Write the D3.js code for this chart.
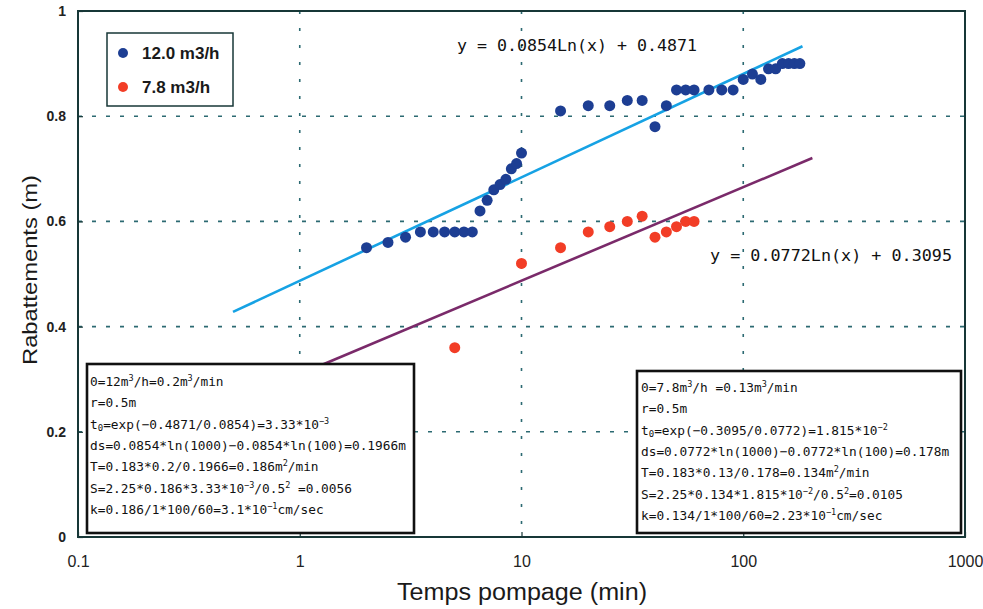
<!DOCTYPE html>
<html>
<head>
<meta charset="utf-8">
<script src="https://cdn.jsdelivr.net/npm/d3@7"></script>
<style>
  body { margin: 0; background: #fff; }
  svg { display: block; }
</style>
</head>
<body>
<script>
// Data
var blueTime = [2, 2.5, 3, 3.5, 4, 4.5, 5, 5.5, 6, 6.5, 7, 7.5, 8, 8.5, 9, 9.5, 10,
                15, 20, 25, 30, 35, 40, 45, 50, 55, 60, 70, 80, 90, 100, 110, 120, 130, 140, 150, 160, 170, 180];
var blueDraw = [0.55, 0.56, 0.57, 0.58, 0.58, 0.58, 0.58, 0.58, 0.58, 0.62, 0.64, 0.66, 0.67, 0.68, 0.70, 0.71, 0.73,
                0.81, 0.82, 0.82, 0.83, 0.83, 0.78, 0.82, 0.85, 0.85, 0.85, 0.85, 0.85, 0.85, 0.87, 0.88, 0.87, 0.89, 0.89, 0.90, 0.90, 0.90, 0.90];
var redTime = [5, 10, 15, 20, 25, 30, 35, 40, 45, 50, 55, 60];
var redDraw = [0.36, 0.52, 0.55, 0.58, 0.59, 0.60, 0.61, 0.57, 0.58, 0.59, 0.60, 0.60];

// fitted lines y = a*ln(x) + b, drawn between two times
var blueFit = [0.0854, 0.4871];
var redFit = [0.0772, 0.3095];
var blueFitRange = [0.5, 185];
var redFitRange = [0.5, 205];

var xTicks = [0.1, 1, 10, 100, 1000];
var yTicks = [0, 0.2, 0.4, 0.6, 0.8, 1];
var legendLabels = ["12.0 m3/h", "7.8 m3/h"];

// text boxes: [text, kind] with kind n / sup / sub
var leftBox = [
  [["0=12m","n"],["3","sup"],["/h=0.2m","n"],["3","sup"],["/min","n"]],
  [["r=0.5m","n"]],
  [["t","n"],["0","sub"],["=exp(\u22120.4871/0.0854)=3.33*10","n"],["\u22123","sup"]],
  [["ds=0.0854*ln(1000)\u22120.0854*ln(100)=0.1966m","n"]],
  [["T=0.183*0.2/0.1966=0.186m","n"],["2","sup"],["/min","n"]],
  [["S=2.25*0.186*3.33*10","n"],["\u22123","sup"],["/0.5","n"],["2","sup"],[" =0.0056","n"]],
  [["k=0.186/1*100/60=3.1*10","n"],["\u22121","sup"],["cm/sec","n"]]
];
var rightBox = [
  [["0=7.8m","n"],["3","sup"],["/h =0.13m","n"],["3","sup"],["/min","n"]],
  [["r=0.5m","n"]],
  [["t","n"],["0","sub"],["=exp(\u22120.3095/0.0772)=1.815*10","n"],["\u22122","sup"]],
  [["ds=0.0772*ln(1000)\u22120.0772*ln(100)=0.178m","n"]],
  [["T=0.183*0.13/0.178=0.134m","n"],["2","sup"],["/min","n"]],
  [["S=2.25*0.134*1.815*10","n"],["\u22122","sup"],["/0.5","n"],["2","sup"],["=0.0105","n"]],
  [["k=0.134/1*100/60=2.23*10","n"],["\u22121","sup"],["cm/sec","n"]]
];

var W = 983, H = 609;
var plotL = 78, plotR = 965, plotT = 11, plotB = 537;

var blueCol = "#1d3e93", redCol = "#f23d26";
var blueLine = "#16a2e4", redLine = "#7a2a6a";
var frameCol = "#173737", gridCol = "#2c6a72";

var svg = d3.select("body").append("svg")
    .attr("width", W)
    .attr("height", H);

var x = d3.scaleLog().domain([0.1, 1000]).range([plotL, plotR]);
var y = d3.scaleLinear().domain([0, 1]).range([plotB, plotT]);

// Gridlines (dotted)
svg.append("g")
    .selectAll("line")
    .data(xTicks.slice(1, -1))
    .enter()
    .append("line")
        .attr("x1", d => x(d)).attr("x2", d => x(d))
        .attr("y1", plotT).attr("y2", plotB)
        .attr("stroke", gridCol)
        .attr("stroke-width", 1.6)
        .attr("stroke-dasharray", "3,14");

svg.append("g")
    .selectAll("line")
    .data(yTicks.slice(1, -1))
    .enter()
    .append("line")
        .attr("x1", plotL).attr("x2", plotR)
        .attr("y1", d => y(d)).attr("y2", d => y(d))
        .attr("stroke", gridCol)
        .attr("stroke-width", 1.6)
        .attr("stroke-dasharray", "4,10");

// Axes with small inner ticks
var xAxis = svg.append("g")
    .attr("transform", "translate(0," + plotB + ")")
    .call(d3.axisBottom(x).tickValues(xTicks).tickFormat(d => String(d)).tickSize(-5).tickPadding(19));
var yAxis = svg.append("g")
    .attr("transform", "translate(" + plotL + ",0)")
    .call(d3.axisLeft(y).tickValues(yTicks).tickFormat(d => String(d)).tickSize(-5).tickPadding(12));

[xAxis, yAxis].forEach(function(a) {
    a.select(".domain").remove();
    a.selectAll(".tick line").attr("stroke", frameCol).attr("stroke-width", 1.2);
    a.selectAll("text")
        .attr("fill", "#222")
        .style("font-family", "'Liberation Sans', Arial, sans-serif");
});
xAxis.selectAll("text").style("font-size", "16px");
yAxis.selectAll("text").style("font-size", "14px").style("font-weight", "bold");

// Regression lines
function fitLine(coef, range, col) {
    var pts = range.map(t => [x(t), y(coef[0] * Math.log(t) + coef[1])]);
    svg.append("path")
        .attr("d", d3.line()(pts))
        .attr("fill", "none")
        .attr("stroke", col)
        .attr("stroke-width", 2.6);
}
fitLine(blueFit, blueFitRange, blueLine);
fitLine(redFit, redFitRange, redLine);

// Calculation boxes
function drawBox(lines, bx, by, bw, bh, tx, ty0) {
    svg.append("rect")
        .attr("x", bx).attr("y", by)
        .attr("width", bw).attr("height", bh)
        .attr("fill", "#fff")
        .attr("stroke", "#111")
        .attr("stroke-width", 2.6);
    var g = svg.append("g")
        .style("font-family", "'DejaVu Sans Mono', monospace")
        .style("font-size", "12.8px")
        .attr("fill", "#111");
    lines.forEach(function(segs, i) {
        var t = g.append("text").attr("x", tx).attr("y", ty0 + i * 21.3);
        var shift = 0;
        segs.forEach(function(s) {
            var sp = t.append("tspan").text(s[0]);
            var want = s[1] == "sup" ? -5 : (s[1] == "sub" ? 2 : 0);
            if (want != shift) sp.attr("dy", want - shift);
            shift = want;
            if (s[1] == "sup") sp.style("font-size", "8.5px");
            if (s[1] == "sub") sp.style("font-size", "9px");
        });
    });
}
drawBox(leftBox, 87, 364, 327, 169, 90, 386);
drawBox(rightBox, 637, 371, 324, 162, 641, 392);

// Data points
svg.append("g")
    .selectAll("circle")
    .data(redTime.map((t, i) => [t, redDraw[i]]))
    .enter()
    .append("circle")
        .attr("cx", d => x(d[0]))
        .attr("cy", d => y(d[1]))
        .attr("r", 5.5)
        .attr("fill", redCol);

svg.append("g")
    .selectAll("circle")
    .data(blueTime.map((t, i) => [t, blueDraw[i]]))
    .enter()
    .append("circle")
        .attr("cx", d => x(d[0]))
        .attr("cy", d => y(d[1]))
        .attr("r", 5.5)
        .attr("fill", blueCol);

// Equations
svg.append("text")
    .attr("x", 457).attr("y", 51)
    .attr("textLength", 240).attr("lengthAdjust", "spacingAndGlyphs")
    .style("font-family", "'DejaVu Sans Mono', monospace")
    .style("font-size", "16.5px")
    .attr("fill", "#111")
    .text("y = 0.0854Ln(x) + 0.4871");
svg.append("text")
    .attr("x", 710).attr("y", 261)
    .attr("textLength", 242).attr("lengthAdjust", "spacingAndGlyphs")
    .style("font-family", "'DejaVu Sans Mono', monospace")
    .style("font-size", "16.5px")
    .attr("fill", "#111")
    .text("y = 0.0772Ln(x) + 0.3095");

// Legend
svg.append("rect")
    .attr("x", 107).attr("y", 33)
    .attr("width", 126).attr("height", 73)
    .attr("fill", "#fff")
    .attr("stroke", frameCol)
    .attr("stroke-width", 1.5);
var legend = svg.append("g")
    .selectAll("g")
    .data(legendLabels)
    .enter()
    .append("g")
        .attr("transform", (d, i) => "translate(123," + (53 + i * 34) + ")");
legend.append("circle")
    .attr("r", 5)
    .attr("fill", (d, i) => i == 0 ? blueCol : redCol);
legend.append("text")
    .attr("x", 19).attr("y", 6)
    .style("font-family", "'Liberation Sans', Arial, sans-serif")
    .style("font-size", "17px")
    .style("font-weight", "bold")
    .attr("fill", "#1a1a1a")
    .text(d => d);

// Frame
svg.append("rect")
    .attr("x", plotL).attr("y", plotT)
    .attr("width", plotR - plotL).attr("height", plotB - plotT)
    .attr("fill", "none")
    .attr("stroke", frameCol)
    .attr("stroke-width", 2);

// Axis titles
svg.append("text")
    .attr("transform", "translate(37,270) rotate(-90)")
    .attr("text-anchor", "middle")
    .attr("textLength", 190).attr("lengthAdjust", "spacingAndGlyphs")
    .style("font-family", "'Liberation Sans', Arial, sans-serif")
    .style("font-size", "21px")
    .attr("fill", "#1a1a1a")
    .text("Rabattements  (m)");
svg.append("text")
    .attr("x", 522).attr("y", 600)
    .attr("text-anchor", "middle")
    .attr("textLength", 250).attr("lengthAdjust", "spacingAndGlyphs")
    .style("font-family", "'Liberation Sans', Arial, sans-serif")
    .style("font-size", "23px")
    .attr("fill", "#1a1a1a")
    .text("Temps pompage (min)");
</script>
</body>
</html>
